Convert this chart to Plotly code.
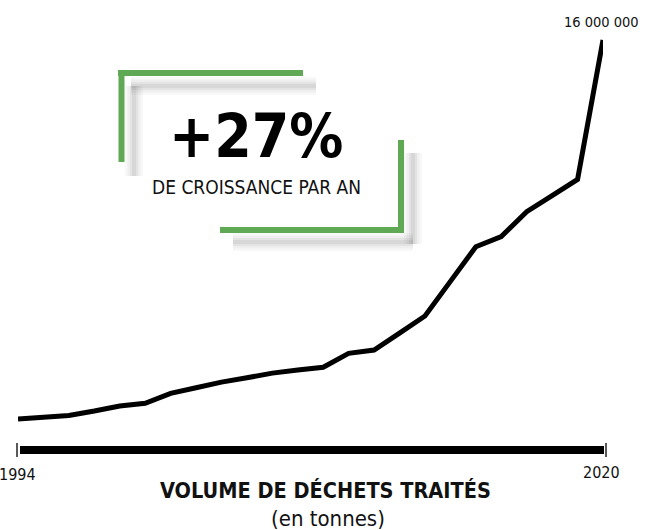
import plotly.graph_objects as go

# ---- data ----
annee_debut = "1994"
annee_fin = "2020"
volume_millions = [1.21, 1.28, 1.35, 1.52, 1.72, 1.82, 2.21, 2.43, 2.65, 2.82,
                   3.00, 3.12, 3.23, 3.77, 3.90, 4.56, 5.23, 6.58, 7.93, 8.33,
                   9.30, 9.93, 10.56, 16.0]
label_final = "16 000 000"
croissance = "+27%"
sous_titre = "DE CROISSANCE PAR AN"
titre = "VOLUME DE DÉCHETS TRAITÉS"
unite = "(en tonnes)"

x_index = list(range(len(volume_millions)))

W, H = 665, 530
ML, MR, MT, MB = 18, 62, 30, 80
PW, PH = W - ML - MR, H - MT - MB

def px(x):
    return (x - ML) / PW

def py(y):
    return (H - MB - y) / PH

FONT = "DejaVu Sans Condensed, Liberation Sans Narrow, sans-serif"
GREEN = "#5fa954"

fig = go.Figure()
fig.add_trace(go.Scatter(
    x=x_index, y=volume_millions, mode="lines",
    line=dict(color="black", width=5), hoverinfo="skip", showlegend=False,
))

shapes = []

def seg(x0, y0, x1, y1, color, width, opacity=1.0):
    shapes.append(dict(type="line", xref="paper", yref="paper",
                       x0=px(x0), y0=py(y0), x1=px(x1), y1=py(y1),
                       line=dict(color=color, width=width), opacity=opacity,
                       layer="below"))

# soft shadows of the brackets
for w, op in [(18, 0.035), (13, 0.05), (8, 0.07), (4, 0.08)]:
    seg(131, 86, 316, 86, "#555", w, op)
    seg(134, 86, 134, 176, "#555", w, op)
    seg(413, 153, 413, 244, "#555", w, op)
    seg(233, 242, 413, 242, "#555", w, op)

# green brackets
seg(118, 73, 303, 73, GREEN, 6)
seg(121.5, 70, 121.5, 162, GREEN, 6)
seg(401, 140, 401, 233, GREEN, 6)
seg(220, 230, 404, 230, GREEN, 6)

# thick baseline bar
shapes.append(dict(type="rect", xref="paper", yref="paper",
                   x0=px(20), x1=px(604), y0=py(454), y1=py(446),
                   fillcolor="black", line=dict(width=0)))
# end ticks
seg(17, 443, 17, 457, "#222", 1.5)
seg(606, 443, 606, 457, "#222", 1.5)

def note(x, y, text, size, color="#111"):
    return dict(x=px(x), y=py(y), xref="paper", yref="paper", text=text,
                showarrow=False, xanchor="center", yanchor="middle",
                font=dict(family=FONT, size=size, color=color))

annotations = [
    note(17, 474, annee_debut, 16),
    note(601, 472, annee_fin, 16),
    note(325, 490, "<b>" + titre + "</b>", 21.5),
    note(328, 518, unite, 22),
    note(256, 136, "<b>" + croissance + "</b>", 60, "black"),
    note(256, 187, sous_titre, 19),
    dict(x=x_index[-1], y=volume_millions[-1], xref="x", yref="y", text=label_final,
         showarrow=False, xanchor="center", yanchor="bottom", xshift=-2, yshift=8,
         font=dict(family=FONT, size=14.5, color="#111")),
]

fig.update_layout(
    width=W, height=H,
    margin=dict(l=ML, r=MR, t=MT, b=MB),
    paper_bgcolor="white", plot_bgcolor="white",
    xaxis=dict(range=[0, len(x_index) - 1], showgrid=False, zeroline=False,
               showticklabels=False, showline=False, ticks="", fixedrange=True),
    yaxis=dict(range=[0, 16 * PH / 410], showgrid=False, zeroline=False,
               showticklabels=False, showline=False, ticks="", fixedrange=True),
    shapes=shapes, annotations=annotations,
)

fig.write_html("out.html", config={"displayModeBar": False},
               post_script="document.body.style.margin='0px';")
